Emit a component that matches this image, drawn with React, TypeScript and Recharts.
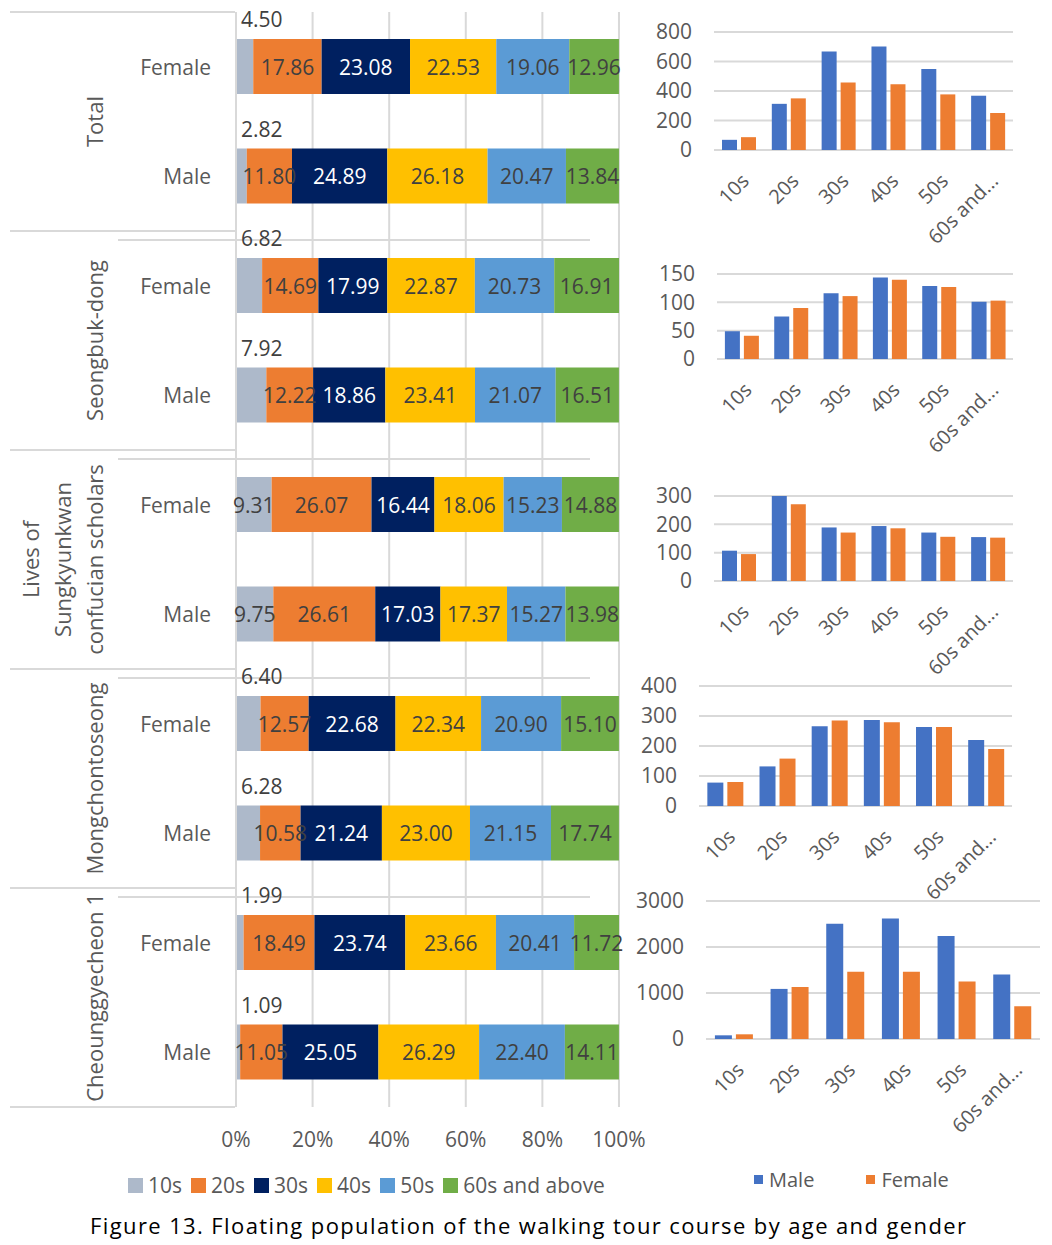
import React from 'react';
import { BarChart, Bar, XAxis, YAxis, CartesianGrid, LabelList, Legend } from 'recharts';

// ---------- Left chart: share (%) by age band, rows = Female/Male per course ----------
const groupLabelLines: string[][] = [
  ['Total'],
  ['Seongbuk-dong'],
  ['Lives of', 'Sungkyunkwan', 'confucian scholars'],
  ['Mongchontoseong'],
  ['Cheounggyecheon 1'],
];
const genders = ['Female', 'Male'];
const ageBands = ['10s', '20s', '30s', '40s', '50s', '60s and above'];
const ageKeys = ['a10', 'a20', 'a30', 'a40', 'a50', 'a60'];
const ageColors = ['#ADB9CA', '#ED7D31', '#002060', '#FFC000', '#5B9BD5', '#70AD47'];

// order: Total F, Total M, Seongbuk F, M, Sungkyunkwan F, M, Mongchon F, M, Cheonggye F, M
const share10s = [4.5, 2.82, 6.82, 7.92, 9.31, 9.75, 6.4, 6.28, 1.99, 1.09];
const share20s = [17.86, 11.8, 14.69, 12.22, 26.07, 26.61, 12.57, 10.58, 18.49, 11.05];
const share30s = [23.08, 24.89, 17.99, 18.86, 16.44, 17.03, 22.68, 21.24, 23.74, 25.05];
const share40s = [22.53, 26.18, 22.87, 23.41, 18.06, 17.37, 22.34, 23.0, 23.66, 26.29];
const share50s = [19.06, 20.47, 20.73, 21.07, 15.23, 15.27, 20.9, 21.15, 20.41, 22.4];
const share60s = [12.96, 13.84, 16.91, 16.51, 14.88, 13.98, 15.1, 17.74, 11.72, 14.11];
const percentTicks = [0, 20, 40, 60, 80, 100];

const shareSeries = [share10s, share20s, share30s, share40s, share50s, share60s];
const shareRows = share10s.map((_, i) => {
  const row: any = {
    key: `${Math.floor(i / 2)}-${genders[i % 2]}`,
    group: Math.floor(i / 2),
    gender: genders[i % 2],
  };
  ageKeys.forEach((k, j) => (row[k] = shareSeries[j][i]));
  return row;
});

// ---------- Right charts: counts by age band and gender ----------
const countCategories = ['10s', '20s', '30s', '40s', '50s', '60s and...'];
const totalMale = [69, 313, 667, 702, 549, 368];
const totalFemale = [87, 350, 457, 446, 377, 251];
const seongbukMale = [49, 75, 116, 144, 129, 101];
const seongbukFemale = [41, 90, 111, 140, 127, 103];
const sungkyunkwanMale = [107, 300, 189, 194, 171, 155];
const sungkyunkwanFemale = [95, 271, 171, 186, 156, 153];
const mongchonMale = [78, 132, 266, 287, 263, 220];
const mongchonFemale = [80, 158, 285, 279, 263, 190];
const cheonggyeMale = [80, 1089, 2505, 2622, 2237, 1402];
const cheonggyeFemale = [102, 1133, 1460, 1460, 1249, 712];

const totalTicks = [0, 200, 400, 600, 800];
const seongbukTicks = [0, 50, 100, 150];
const sungkyunkwanTicks = [0, 100, 200, 300];
const mongchonTicks = [0, 100, 200, 300, 400];
const cheonggyeTicks = [0, 1000, 2000, 3000];

const toRows = (male: number[], female: number[]) =>
  countCategories.map((age, i) => ({ age, male: male[i], female: female[i] }));

const MALE = '#4472C4';
const FEMALE = '#ED7D31';
const GRID = '#D9D9D9';
const AXIS_TEXT = '#595959';
const FONT = '"Open Sans", "Noto Sans", sans-serif';

const CategoryTick = (props: any) => {
  const { y, payload } = props;
  const index = payload?.index ?? props.index;
  const row = shareRows[index];
  if (!row) return null;
  const half = payload?.offset && payload.offset > 0 ? payload.offset : 54.75;
  const isFemale = row.gender === 'Female';
  const lines = groupLabelLines[row.group];
  const cy = y + half;
  const lastGroup = row.group === groupLabelLines.length - 1;
  return (
    <g>
      <text x={211} y={y} textAnchor="end" dominantBaseline="central" fill={AXIS_TEXT} fontSize={21}>
        {row.gender}
      </text>
      {isFemale && (
        <line x1={10} x2={235} y1={y - half} y2={y - half} stroke={GRID} strokeWidth={2} />
      )}
      {isFemale && row.group > 0 && (
        <line x1={118} x2={590} y1={y - half + 9} y2={y - half + 9} stroke={GRID} strokeWidth={2} />
      )}
      {!isFemale && lastGroup && (
        <line x1={10} x2={235} y1={y + half} y2={y + half} stroke={GRID} strokeWidth={2} />
      )}
      {isFemale &&
        lines.map((ln, i) => {
          const lx = 94 - (lines.length - 1 - i) * 32;
          return (
            <text
              key={i}
              x={lx}
              y={cy}
              transform={`rotate(-90 ${lx} ${cy})`}
              textAnchor="middle"
              dominantBaseline="central"
              fill={AXIS_TEXT}
              fontSize={22}
            >
              {ln}
            </text>
          );
        })}
    </g>
  );
};

const makeShareLabel = (ageIdx: number) => (props: any) => {
  const { x, y, width, height, value } = props;
  const v = Number(value);
  if (!isFinite(v)) return null;
  const text = v.toFixed(2);
  if (ageIdx === 0 && v < 9) {
    return (
      <text x={x + 5} y={y - 20} textAnchor="start" dominantBaseline="central" fill="#404040" fontSize={21}>
        {text}
      </text>
    );
  }
  return (
    <text
      x={x + width / 2}
      y={y + height / 2}
      textAnchor="middle"
      dominantBaseline="central"
      fill={ageIdx === 2 ? '#FFFFFF' : '#404040'}
      fontSize={21}
    >
      {text}
    </text>
  );
};

const ShareLegend = () => (
  <div style={{ display: 'flex', alignItems: 'center', height: 40, fontSize: 21, color: AXIS_TEXT, whiteSpace: 'nowrap' }}>
    {ageBands.map((b, i) => (
      <div key={b} style={{ display: 'flex', alignItems: 'center', marginRight: 9 }}>
        <span style={{ display: 'inline-block', width: 15, height: 15, background: ageColors[i], marginRight: 5 }} />
        <span>{b}</span>
      </div>
    ))}
  </div>
);

const GenderLegend = () => (
  <div style={{ display: 'flex', alignItems: 'center', height: 40, fontSize: 20, color: AXIS_TEXT, whiteSpace: 'nowrap' }}>
    {[
      ['Male', MALE],
      ['Female', FEMALE],
    ].map(([n, c]) => (
      <div key={n} style={{ display: 'flex', alignItems: 'center', marginRight: 52 }}>
        <span style={{ display: 'inline-block', width: 9, height: 9, background: c, marginRight: 6 }} />
        <span>{n}</span>
      </div>
    ))}
  </div>
);

const AgeTick = (props: any) => {
  const { x, y, payload } = props;
  const ax = x + 6;
  const ay = y + 19;
  return (
    <text
      x={ax}
      y={ay}
      transform={`rotate(-45 ${ax} ${ay})`}
      textAnchor="end"
      dominantBaseline="central"
      fill={AXIS_TEXT}
      fontSize={20}
    >
      {payload.value}
    </text>
  );
};

type CountProps = {
  male: number[];
  female: number[];
  ticks: number[];
  plotTop: number;
  plotBottom: number;
  yWidth: number;
  width: number;
  xHeight: number;
  legend?: boolean;
};

const TOP_PAD = 22;

const CountChart = ({ male, female, ticks, plotTop, plotBottom, yWidth, width, xHeight, legend }: CountProps) => {
  const legendHeight = legend ? 40 : 0;
  const height = plotBottom - plotTop + TOP_PAD + xHeight + legendHeight;
  return (
    <div style={{ position: 'absolute', left: 630, top: plotTop - TOP_PAD }}>
      <BarChart
        width={width}
        height={height}
        data={toRows(male, female)}
        margin={{ top: TOP_PAD, right: 5, left: 0, bottom: 0 }}
        barCategoryGap="16%"
        barGap={4}
      >
        <CartesianGrid vertical={false} stroke={GRID} strokeWidth={2} />
        <XAxis dataKey="age" axisLine={false} tickLine={false} interval={0} height={xHeight} tick={<AgeTick />} />
        <YAxis
          domain={[0, ticks[ticks.length - 1]]}
          ticks={ticks}
          width={yWidth}
          axisLine={false}
          tickLine={false}
          tickMargin={16}
          interval={0}
          tick={{ fill: AXIS_TEXT, fontSize: 21 }}
        />
        <Bar dataKey="male" name="Male" fill={MALE} isAnimationActive={false} />
        <Bar dataKey="female" name="Female" fill={FEMALE} isAnimationActive={false} />
        {legend && (
          <Legend
            verticalAlign="bottom"
            align="left"
            content={<GenderLegend />}
            wrapperStyle={{ left: 124, width: 260, height: 40 }}
          />
        )}
      </BarChart>
    </div>
  );
};

export default function App() {
  return (
    <div
      style={{
        position: 'absolute',
        left: 0,
        top: 0,
        width: 1052,
        height: 1245,
        background: '#FFFFFF',
        fontFamily: FONT,
        overflow: 'hidden',
      }}
    >
      <div style={{ position: 'absolute', left: 0, top: 0 }}>
        <BarChart
          layout="vertical"
          width={650}
          height={1205}
          data={shareRows}
          margin={{ top: 12, right: 31, left: 0, bottom: 0 }}
          barSize={55}
        >
          <CartesianGrid horizontal={false} stroke={GRID} strokeWidth={2} />
          <XAxis
            type="number"
            domain={[0, 100]}
            ticks={percentTicks}
            tickFormatter={(v: number) => `${v}%`}
            axisLine={false}
            tickLine={false}
            height={58}
            tickMargin={19}
            tick={{ fill: AXIS_TEXT, fontSize: 21 }}
          />
          <YAxis
            type="category"
            dataKey="key"
            width={236}
            axisLine={{ stroke: GRID, strokeWidth: 2 }}
            tickLine={false}
            interval={0}
            tick={<CategoryTick />}
          />
          {ageKeys.map((k, i) => (
            <Bar key={k} dataKey={k} name={ageBands[i]} stackId="share" fill={ageColors[i]} isAnimationActive={false}>
              <LabelList dataKey={k} content={makeShareLabel(i)} />
            </Bar>
          ))}
          <Legend
            verticalAlign="bottom"
            align="left"
            content={<ShareLegend />}
            wrapperStyle={{ left: 128, width: 520, height: 40 }}
          />
        </BarChart>
      </div>

      <CountChart male={totalMale} female={totalFemale} ticks={totalTicks} plotTop={32} plotBottom={150} yWidth={84} width={388} xHeight={100} />
      <CountChart male={seongbukMale} female={seongbukFemale} ticks={seongbukTicks} plotTop={274} plotBottom={359} yWidth={87} width={388} xHeight={100} />
      <CountChart male={sungkyunkwanMale} female={sungkyunkwanFemale} ticks={sungkyunkwanTicks} plotTop={496} plotBottom={581} yWidth={84} width={388} xHeight={100} />
      <CountChart male={mongchonMale} female={mongchonFemale} ticks={mongchonTicks} plotTop={686} plotBottom={806} yWidth={69} width={387} xHeight={100} />
      <CountChart male={cheonggyeMale} female={cheonggyeFemale} ticks={cheonggyeTicks} plotTop={901} plotBottom={1039} yWidth={76} width={415} xHeight={120} legend />

      <svg style={{ position: 'absolute', left: 0, top: 1205 }} width={1052} height={40}>
        <text x={90} y={29} textLength={876} lengthAdjust="spacing" fontSize={22} fill="#000000" fontFamily={FONT}>
          Figure 13. Floating population of the walking tour course by age and gender
        </text>
      </svg>
    </div>
  );
}
